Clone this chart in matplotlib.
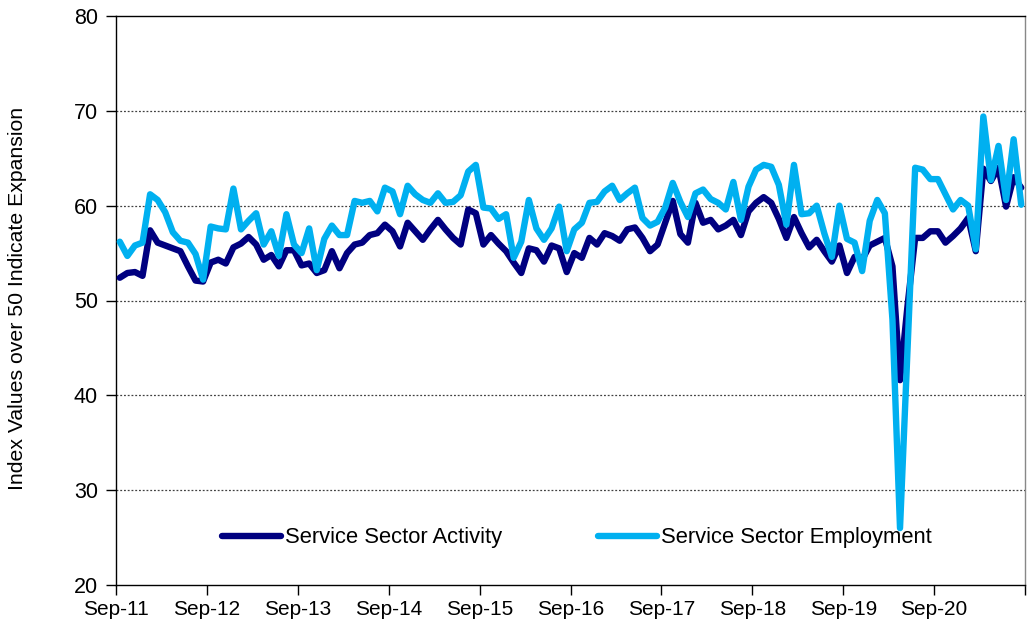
import matplotlib
matplotlib.use("Agg")
import matplotlib.pyplot as plt
import numpy as np

plt.rcParams['font.family'] = ['Liberation Sans', 'DejaVu Sans']

tick_labels = ["Sep-11", "Sep-12", "Sep-13", "Sep-14", "Sep-15",
               "Sep-16", "Sep-17", "Sep-18", "Sep-19", "Sep-20", ""]

activity = [
    52.4, 52.9, 53.0, 52.6, 57.4, 56.1, 55.8, 55.5, 55.2, 53.6, 52.1, 52.0,
    54.0, 54.3, 53.9, 55.6, 56.0, 56.7, 55.9, 54.3, 54.8, 53.6, 55.3, 55.3,
    53.7, 53.9, 52.9, 53.2, 55.2, 53.4, 55.0, 55.9, 56.1, 56.9, 57.1, 58.0,
    57.3, 55.7, 58.2, 57.3, 56.4, 57.5, 58.5, 57.5, 56.6, 55.9, 59.6, 59.2,
    55.9, 56.9, 56.0, 55.2, 54.0, 52.9, 55.5, 55.3, 54.1, 55.8, 55.5, 53.0,
    55.0, 54.5, 56.6, 55.9, 57.1, 56.8, 56.3, 57.5, 57.7, 56.6, 55.2, 55.9,
    58.2, 60.5, 57.0, 56.1, 60.3, 58.2, 58.5, 57.5, 57.9, 58.5, 56.9, 59.4,
    60.3, 60.9, 60.3, 58.6, 56.6, 58.8, 57.1, 55.6, 56.4, 55.2, 54.1, 55.8,
    52.9, 54.6, 54.3, 55.8, 56.2, 56.6, 53.6, 41.6, 49.5, 56.6, 56.6, 57.3,
    57.3, 56.1, 56.8, 57.6, 58.7, 55.2, 63.9, 62.6, 64.0, 59.9, 63.0, 61.9,
]

employment = [
    56.2, 54.7, 55.8, 56.1, 61.2, 60.6, 59.3, 57.2, 56.3, 56.1, 54.9, 52.2,
    57.8, 57.6, 57.5, 61.8, 57.5, 58.4, 59.2, 55.9, 57.3, 54.7, 59.1, 55.9,
    55.0, 57.6, 53.2, 56.5, 57.9, 56.9, 56.9, 60.5, 60.3, 60.5, 59.4, 61.9,
    61.5, 59.1, 62.1, 61.2, 60.6, 60.3, 61.3, 60.3, 60.4, 61.1, 63.6, 64.3,
    59.8, 59.7, 58.6, 59.1, 54.5, 56.2, 60.6, 57.6, 56.4, 57.6, 59.9, 55.2,
    57.5, 58.2, 60.3, 60.4, 61.5, 62.1, 60.6, 61.3, 61.9, 58.7, 57.9, 58.3,
    59.8, 62.4, 60.4, 58.8, 61.3, 61.7, 60.7, 60.3, 59.6, 62.5, 58.5, 62.0,
    63.8, 64.3, 64.1, 62.2, 58.0, 64.3, 59.1, 59.2, 60.0, 57.1, 54.6, 60.0,
    56.5, 56.1, 53.1, 58.4, 60.6, 59.2, 48.0, 26.0, 45.0, 64.0, 63.8, 62.8,
    62.8, 61.2, 59.6, 60.6, 60.0, 55.4, 69.4, 62.7, 66.3, 60.6, 67.0, 60.1,
]

series_names = ["Service Sector Activity", "Service Sector Employment"]
colors = ["#000080", "#00B0F0"]

n = len(activity)
x = np.arange(n) + 0.5

fig = plt.figure(figsize=(10.32, 6.28), dpi=100)
ax = fig.add_axes([116/1032, 43/628, 909/1032, 569/628])

for yv in [30, 40, 50, 60, 70]:
    ax.axhline(yv, color="#404040", lw=0.9, ls=(0, (1.5, 1.5)), zorder=1)

ax.plot(x, activity, color=colors[0], lw=4.6, label=series_names[0],
        solid_joinstyle='round', solid_capstyle='round', zorder=3)
ax.plot(x, employment, color=colors[1], lw=4.6, label=series_names[1],
        solid_joinstyle='round', solid_capstyle='round', zorder=4)

ax.set_xlim(0, 120)
ax.set_ylim(20, 80)
ax.set_yticks([20, 30, 40, 50, 60, 70, 80])
ax.set_xticks(np.arange(0, 121, 12))
ax.set_xticklabels(tick_labels)
ax.tick_params(axis='both', direction='out', length=7, width=1, color='black',
               labelsize=15, labelcolor='black')
ax.tick_params(axis='y', labelsize=15.5)
ax.tick_params(axis='x', pad=4)
ax.tick_params(axis='y', pad=6)

for s in ['left', 'bottom', 'top']:
    ax.spines[s].set_color('black')
    ax.spines[s].set_linewidth(1)
ax.spines['right'].set_color('#888888')
ax.spines['right'].set_linewidth(1)

fig.text(18/1032, 1 - 298/628, "Index Values over 50 Indicate Expansion",
         rotation=90, ha='center', va='center', fontsize=15.3)

leg = ax.legend(loc='center left', bbox_to_anchor=((222-116)/909, (585-538)/569),
                ncol=2, frameon=False, fontsize=15.8, borderpad=0, borderaxespad=0,
                handlelength=2.7, handletextpad=0.15, columnspacing=4.4)
for h in leg.get_lines():
    h.set_linewidth(4.6)

fig.savefig("out.png", dpi=100)
